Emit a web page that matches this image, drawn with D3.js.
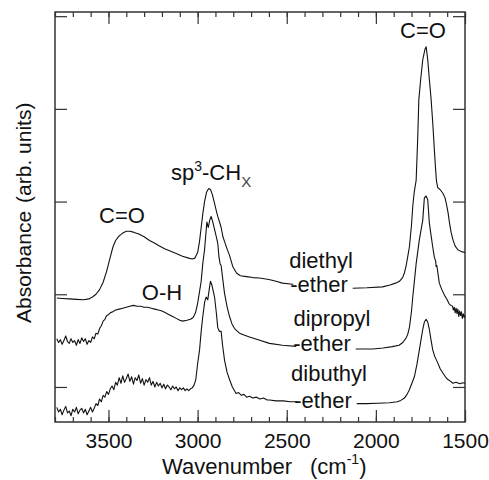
<!DOCTYPE html>
<html>
<head>
<meta charset="utf-8">
<script src="https://cdn.jsdelivr.net/npm/d3@7"></script>
<style>
  body { margin: 0; background: #fff; }
  text { font-family: Arial, "Liberation Sans", sans-serif; fill: #111; }
</style>
</head>
<body>
<script>
// spectra: [wavenumber (cm-1), absorbance (arb. units)]
var diethyl = [[3790,0.96],[3760,0.955],[3720,0.95],[3680,0.945],[3640,0.94],[3610,0.95],[3590,0.97],[3570,1.00],[3550,1.05],[3530,1.13],[3510,1.25],[3490,1.40],[3475,1.51],[3460,1.58],[3440,1.63],[3420,1.66],[3400,1.68],[3380,1.68],[3360,1.67],[3330,1.65],[3300,1.62],[3270,1.58],[3240,1.55],[3214,1.52],[3185,1.49],[3158,1.47],[3120,1.44],[3085,1.41],[3050,1.39],[3030,1.38],[3015,1.39],[3000,1.45],[2990,1.56],[2980,1.72],[2970,1.88],[2961,2.00],[2950,2.10],[2938,2.14],[2928,2.13],[2918,2.08],[2905,1.98],[2895,1.90],[2887,1.84],[2877,1.78],[2868,1.72],[2858,1.62],[2849,1.57],[2835,1.49],[2821,1.42],[2803,1.30],[2782,1.23],[2760,1.20],[2726,1.19],[2690,1.18],[2653,1.175],[2600,1.16],[2560,1.14],[2524,1.12],[2480,1.11],[2430,1.10],[2370,1.09],[2300,1.08],[2220,1.07],[2131,1.065],[2050,1.07],[1963,1.08],[1920,1.10],[1890,1.12],[1868,1.14],[1850,1.18],[1840,1.23],[1830,1.31],[1820,1.42],[1812,1.51],[1800,1.75],[1793,1.95],[1785,2.10],[1774,2.23],[1765,2.70],[1759,3.10],[1748,3.33],[1737,3.53],[1725,3.64],[1718,3.67],[1709,3.53],[1700,3.32],[1690,3.10],[1680,2.82],[1672,2.56],[1665,2.35],[1660,2.22],[1653,2.15],[1640,2.13],[1624,2.09],[1612,2.04],[1605,1.98],[1595,1.88],[1587,1.77],[1578,1.67],[1568,1.59],[1555,1.52],[1540,1.48],[1520,1.46],[1500,1.45]];

var dipropyl = [[3790,0.52],[3780,0.48],[3770,0.51],[3760,0.46],[3750,0.50],[3740,0.55],[3730,0.49],[3720,0.47],[3710,0.52],[3700,0.48],[3690,0.50],[3680,0.45],[3670,0.51],[3660,0.47],[3650,0.53],[3640,0.49],[3630,0.52],[3620,0.46],[3610,0.50],[3600,0.48],[3590,0.54],[3580,0.52],[3570,0.58],[3560,0.57],[3550,0.63],[3540,0.66],[3530,0.71],[3520,0.73],[3510,0.77],[3500,0.78],[3490,0.80],[3477,0.81],[3460,0.83],[3440,0.84],[3420,0.85],[3400,0.86],[3380,0.87],[3360,0.88],[3340,0.87],[3320,0.87],[3300,0.86],[3280,0.86],[3260,0.85],[3240,0.84],[3220,0.83],[3200,0.82],[3180,0.80],[3160,0.78],[3140,0.76],[3120,0.74],[3100,0.72],[3083,0.71],[3060,0.72],[3040,0.73],[3025,0.75],[3012,0.80],[3000,0.90],[2990,1.02],[2980,1.14],[2971,1.33],[2961,1.48],[2955,1.62],[2948,1.78],[2940,1.72],[2932,1.80],[2924,1.84],[2915,1.78],[2905,1.70],[2895,1.62],[2887,1.55],[2880,1.40],[2874,1.33],[2868,1.31],[2860,1.18],[2849,1.01],[2835,0.87],[2821,0.76],[2807,0.68],[2793,0.63],[2765,0.58],[2740,0.56],[2709,0.54],[2660,0.51],[2597,0.47],[2524,0.45],[2430,0.435],[2300,0.42],[2131,0.41],[2017,0.41],[1960,0.42],[1907,0.435],[1870,0.45],[1849,0.48],[1830,0.53],[1821,0.57],[1812,0.64],[1800,0.82],[1793,0.97],[1774,1.33],[1756,1.59],[1737,1.80],[1728,2.04],[1718,2.06],[1709,2.02],[1700,1.77],[1690,1.63],[1681,1.51],[1672,1.40],[1665,1.36],[1662,1.30],[1658,1.31],[1644,1.12],[1630,1.05],[1615,0.99],[1600,0.94],[1590,0.90],[1580,0.88],[1570,0.87],[1565,0.83],[1560,0.86],[1555,0.80],[1550,0.85],[1545,0.79],[1540,0.84],[1535,0.76],[1530,0.82],[1525,0.77],[1520,0.81],[1515,0.74],[1510,0.79],[1505,0.75],[1500,0.77]];

var dibuthyl = [[3790,-0.22],[3780,-0.27],[3770,-0.24],[3760,-0.30],[3750,-0.25],[3740,-0.21],[3730,-0.28],[3720,-0.26],[3710,-0.31],[3700,-0.24],[3690,-0.27],[3680,-0.22],[3670,-0.29],[3660,-0.25],[3650,-0.23],[3640,-0.28],[3630,-0.24],[3620,-0.30],[3610,-0.26],[3600,-0.22],[3590,-0.27],[3580,-0.23],[3570,-0.18],[3560,-0.20],[3550,-0.13],[3540,-0.16],[3530,-0.09],[3520,-0.11],[3510,-0.05],[3500,-0.08],[3490,-0.02],[3480,0.01],[3470,-0.03],[3460,0.05],[3450,0.02],[3440,0.10],[3430,0.04],[3420,0.12],[3410,0.05],[3400,0.09],[3390,0.14],[3380,0.06],[3370,0.11],[3360,0.03],[3350,0.10],[3340,0.07],[3330,0.13],[3320,0.04],[3310,0.09],[3300,0.02],[3290,0.08],[3280,0.05],[3270,0.10],[3260,0.02],[3250,0.06],[3240,0.00],[3230,0.05],[3220,0.01],[3210,0.04],[3200,-0.01],[3190,0.03],[3180,-0.02],[3170,0.02],[3160,0.00],[3150,-0.03],[3140,0.01],[3130,-0.02],[3120,0.00],[3110,-0.04],[3100,-0.01],[3090,-0.03],[3080,-0.01],[3070,-0.04],[3060,-0.02],[3050,-0.04],[3040,-0.02],[3030,-0.01],[3020,0.02],[3010,0.08],[3000,0.25],[2989,0.40],[2980,0.60],[2971,0.76],[2960,0.92],[2952,0.97],[2943,0.94],[2935,1.05],[2928,1.14],[2920,1.10],[2905,0.97],[2895,0.80],[2887,0.64],[2878,0.60],[2868,0.60],[2860,0.45],[2849,0.29],[2835,0.16],[2821,0.08],[2805,0.00],[2784,-0.07],[2770,-0.06],[2755,-0.09],[2740,-0.08],[2725,-0.11],[2709,-0.10],[2690,-0.12],[2670,-0.11],[2650,-0.13],[2630,-0.12],[2610,-0.14],[2597,-0.14],[2560,-0.15],[2520,-0.15],[2480,-0.16],[2430,-0.16],[2300,-0.17],[2200,-0.18],[2054,-0.18],[1990,-0.175],[1923,-0.17],[1880,-0.16],[1860,-0.145],[1840,-0.12],[1825,-0.08],[1812,-0.03],[1800,0.03],[1784,0.11],[1770,0.24],[1756,0.40],[1745,0.53],[1737,0.62],[1728,0.70],[1718,0.73],[1709,0.70],[1700,0.62],[1690,0.50],[1681,0.40],[1670,0.33],[1653,0.26],[1640,0.20],[1624,0.15],[1610,0.11],[1596,0.08],[1580,0.06],[1568,0.04],[1550,0.05],[1530,0.035],[1512,0.045],[1500,0.04]];

var xMajor = [3500, 3000, 2500, 2000, 1500];
var xMinor = [3800,3700,3600,3500,3400,3300,3200,3100,3000,2900,2800,2700,2600,2500,2400,2300,2200,2100,2000,1900,1800,1700,1600,1500];
var yTicks = [0, 1, 2, 3, 4];

var margin = {top: 12, right: 24, bottom: 58, left: 55},
    width = 489 - margin.left - margin.right,
    height = 480 - margin.top - margin.bottom;

var svg = d3.select("body").append("svg")
    .attr("width", 489)
    .attr("height", 480);

var g = svg.append("g")
    .attr("transform", "translate(" + margin.left + "," + margin.top + ")");

var x = d3.scaleLinear().domain([3800, 1500]).range([0, width]);
var y = d3.scaleLinear().domain([-0.378, 4.045]).range([height, 0]);

function tidy(sel) {
  sel.select(".domain").remove();
  sel.selectAll(".tick line").attr("stroke", "#333").attr("stroke-width", 1.2);
}

// bottom axis: minor + labelled major ticks, pointing inward
g.append("g").attr("transform", "translate(0," + height + ")")
    .call(d3.axisBottom(x).tickValues(xMinor).tickSize(-5).tickFormat(""))
    .call(tidy);
g.append("g").attr("transform", "translate(0," + height + ")")
    .call(d3.axisBottom(x).tickValues(xMajor).tickSize(-12).tickPadding(11).tickFormat(d3.format("d")))
    .call(tidy)
    .call(function(a) {
      a.attr("font-size", null).attr("font-family", null);
      a.selectAll("text").style("font-size", "21px").attr("fill", "#111");
    });

// top axis, no labels
g.append("g")
    .call(d3.axisTop(x).tickValues(xMinor).tickSize(-5).tickFormat(""))
    .call(tidy);
g.append("g")
    .call(d3.axisTop(x).tickValues(xMajor).tickSize(-12).tickFormat(""))
    .call(tidy);

// left / right ticks
g.append("g")
    .call(d3.axisLeft(y).tickValues(yTicks).tickSize(-12).tickFormat(""))
    .call(tidy);
g.append("g").attr("transform", "translate(" + width + ",0)")
    .call(d3.axisRight(y).tickValues(yTicks).tickSize(-12).tickFormat(""))
    .call(tidy);

// frame
g.append("rect")
    .attr("width", width).attr("height", height)
    .attr("fill", "none").attr("stroke", "#333").attr("stroke-width", 1.5);

var line = d3.line()
    .x(function(d) { return x(d[0]); })
    .y(function(d) { return y(d[1]); });

[diethyl, dipropyl, dibuthyl].forEach(function(s) {
  svg.append("path")
      .datum(s)
      .attr("transform", "translate(" + margin.left + "," + margin.top + ")")
      .attr("fill", "none")
      .attr("stroke", "#111")
      .attr("stroke-width", 1.1)
      .attr("stroke-linejoin", "round")
      .attr("d", line);
});

// annotations
function label(txt, cx, by, blank) {
  var t = svg.append("text")
      .attr("x", cx).attr("y", by)
      .attr("text-anchor", "middle")
      .style("font-size", "22px")
      .text(txt);
  if (blank) {
    var b = t.node().getBBox();
    svg.insert("rect", function() { return t.node(); })
        .attr("x", b.x + 3).attr("y", b.y + 2)
        .attr("width", b.width + 2).attr("height", b.height - 4)
        .attr("fill", "#fff");
  }
  return t;
}

label("C=O", 423, 38);
label("C=O", 122, 223);
label("O-H", 162, 300);
label("diethyl", 321, 268);
label("-ether", 319, 292, true);
label("dipropyl", 332, 326);
label("-ether", 322, 351, true);
label("dibuthyl", 329, 381);
label("-ether", 323, 408, true);

var sp = svg.append("text").attr("x", 171).attr("y", 180).style("font-size", "22px");
sp.append("tspan").text("sp");
sp.append("tspan").attr("dy", -9).style("font-size", "14px").text("3");
sp.append("tspan").attr("dy", 9).text("-CH");
sp.append("tspan").attr("dy", 7).style("font-size", "15px").attr("fill", "#444").text("X");

// axis titles
var xt = svg.append("text").attr("x", 162).attr("y", 474).style("font-size", "22px");
xt.append("tspan").text("Wavenumber");
xt.append("tspan").attr("dx", 18).text("(cm");
xt.append("tspan").attr("dy", -10).style("font-size", "14px").text("-1");
xt.append("tspan").attr("dy", 10).text(")");

var yt = svg.append("text")
    .attr("transform", "translate(31,323) rotate(-90)")
    .style("font-size", "21px");
yt.append("tspan").text("Absorbance");
yt.append("tspan").attr("dx", 8).text("(arb. units)");
</script>
</body>
</html>
